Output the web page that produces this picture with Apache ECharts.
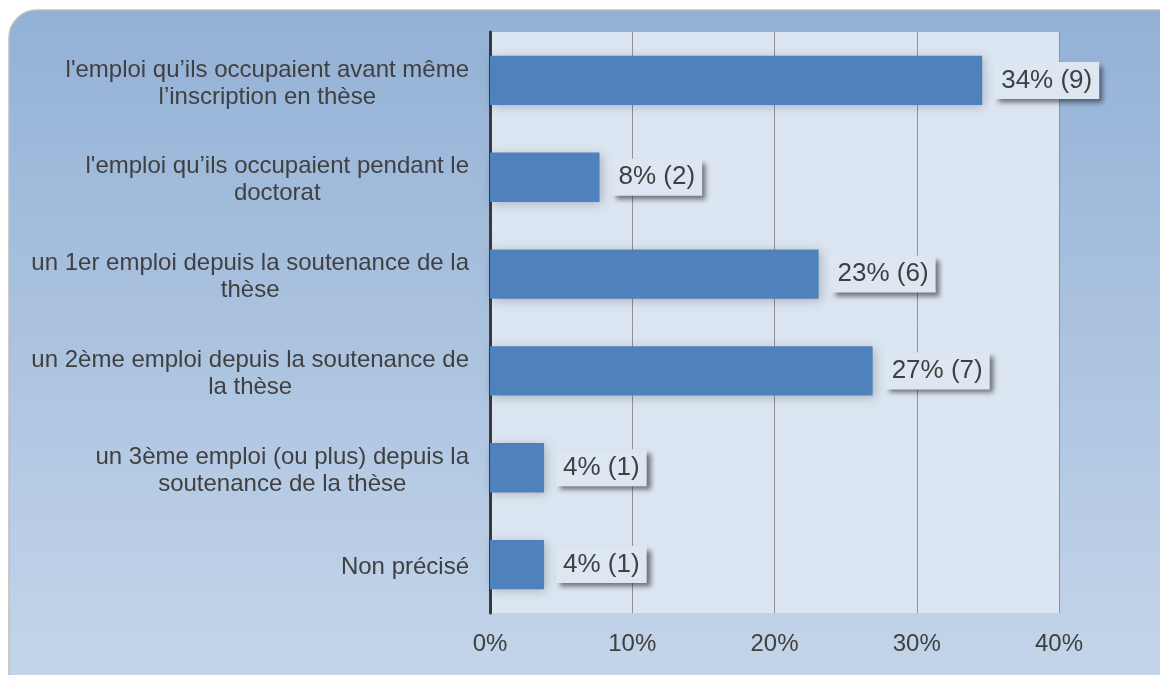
<!DOCTYPE html>
<html>
<head>
<meta charset="utf-8">
<script src="https://cdn.jsdelivr.net/npm/echarts@6/dist/echarts.min.js"></script>
<style>
  html, body { margin: 0; padding: 0; background: #fff; }
  #chart { width: 1160px; height: 675px; }
</style>
</head>
<body>
<div id="chart"></div>
<script>
const categories = [
  "l'emploi qu\u2019ils occupaient avant même\nl\u2019inscription en thèse",
  "l'emploi qu\u2019ils occupaient pendant le\ndoctorat",
  "un 1er emploi depuis la soutenance de la\nthèse",
  "un 2ème emploi depuis la soutenance de\nla thèse",
  "un 3ème emploi (ou plus) depuis la\nsoutenance de la thèse",
  "Non précisé"
]
const shares = [34.6, 7.7, 23.1, 26.9, 3.8, 3.8]
const pctLabels = [34, 8, 23, 27, 4, 4]
const counts = [9, 2, 6, 7, 1, 1]
const xTicks = [0, 10, 20, 30, 40]

const textColor = '#404040'
const chart = echarts.init(document.getElementById('chart'))

chart.setOption({
  animation: false,
  textStyle: { fontFamily: 'Liberation Sans, Arial, sans-serif' },
  graphic: [{
    type: 'rect',
    z: -100,
    shape: { x: 9, y: 10, width: 1200, height: 720, r: 28 },
    style: {
      fill: new echarts.graphic.LinearGradient(0, 0, 0, 1, [
        { offset: 0, color: '#93b1d6' },
        { offset: 1, color: '#c8d8eb' }
      ]),
      stroke: '#bdbdbd',
      lineWidth: 1.5
    }
  }],
  grid: {
    left: 490, right: 101, top: 32, bottom: 62,
    show: true, backgroundColor: '#dce6f2', borderWidth: 0
  },
  xAxis: {
    type: 'value',
    min: xTicks[0],
    max: xTicks[xTicks.length - 1],
    interval: 10,
    axisLine: { show: false },
    axisTick: { show: false },
    axisLabel: {
      formatter: '{value}%',
      fontSize: 24,
      color: textColor,
      margin: 19
    },
    splitLine: { lineStyle: { color: '#8f9299', width: 1 } }
  },
  yAxis: {
    type: 'category',
    inverse: true,
    data: categories,
    axisLine: { lineStyle: { color: '#3a3a3a', width: 3 } },
    axisTick: { length: 6, lineStyle: { color: '#3a3a3a', width: 3 } },
    axisLabel: {
      margin: 21,
      padding: [6, 0, 0, 0],
      formatter: (val) => val.split('\n').map(l => '{c|' + l + '}').join('\n'),
      rich: {
        c: { align: 'center', fontSize: 24, lineHeight: 27, color: textColor }
      }
    }
  },
  series: [{
    type: 'bar',
    data: shares,
    barCategoryGap: '49%',
    itemStyle: {
      color: '#4f81bd',
      shadowBlur: 10,
      shadowColor: 'rgba(0,0,0,0.22)',
      shadowOffsetX: 2,
      shadowOffsetY: 2
    },
    label: {
      show: true,
      position: 'right',
      distance: 12,
      formatter: (p) => pctLabels[p.dataIndex] + '% (' + counts[p.dataIndex] + ')',
      fontSize: 26,
      color: textColor,
      backgroundColor: '#dde7f2',
      padding: [6, 7, 5, 7],
      shadowBlur: 5,
      shadowColor: 'rgba(0,0,0,0.5)',
      shadowOffsetX: 4,
      shadowOffsetY: 4
    }
  }]
})
</script>
</body>
</html>
